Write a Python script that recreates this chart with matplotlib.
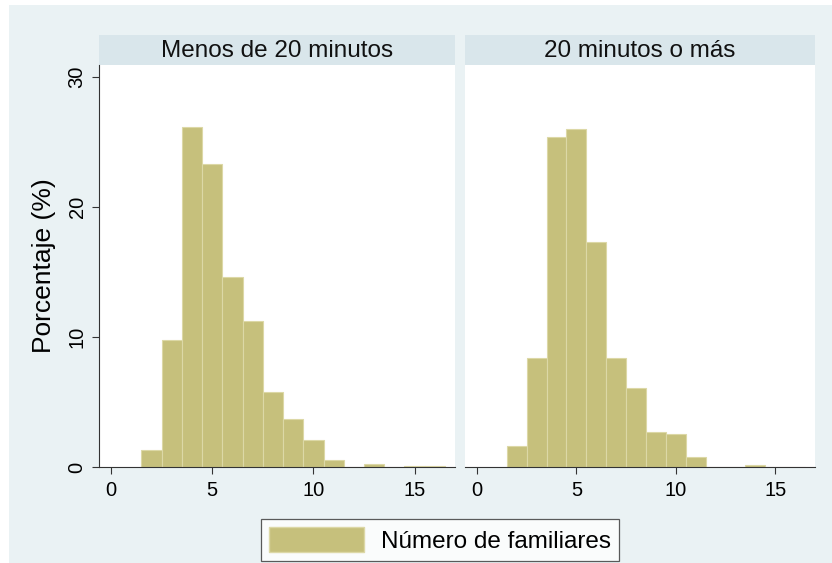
import matplotlib
matplotlib.use("Agg")
import matplotlib.pyplot as plt
from matplotlib.patches import Rectangle, Patch

plt.rcParams['font.family'] = ['Liberation Sans', 'DejaVu Sans']

# Data: bins of width 1 centred on integer values (Número de familiares)
bin_centres = [2, 3, 4, 5, 6, 7, 8, 9, 10, 11, 12, 13, 14, 15, 16]
pct_menos20 = [1.3, 9.8, 26.1, 23.3, 14.6, 11.2, 5.8, 3.7, 2.1, 0.5, 0.0, 0.25, 0.0, 0.05, 0.05]
pct_20mas = [1.6, 8.4, 25.4, 26.0, 17.3, 8.4, 6.1, 2.7, 2.5, 0.8, 0.0, 0.0, 0.15, 0.0, 0.0]
panel_titles = ["Menos de 20 minutos", "20 minutos o más"]
x_ticks = [0, 5, 10, 15]
y_ticks = [0, 10, 20, 30]
y_label = "Porcentaje (%)"
legend_label = "Número de familiares"

W, H = 832, 563
BG = '#eaf2f4'
STRIP = '#d9e6eb'
BAR = '#c6c07c'
EDGE = '#dcd8a6'

fig = plt.figure(figsize=(W / 100, H / 100), dpi=100, facecolor='white')
fig.patches.append(Rectangle((9 / W, 0), 1 - 9 / W, 1 - 5 / H, transform=fig.transFigure,
                             facecolor=BG, edgecolor='none', zorder=-10))

def fx(px):
    return px / W

def fy(py):
    return 1 - py / H

panels = [(99, 455), (465, 815)]
top, bottom = 65, 467
strip_top = 35
series = [pct_menos20, pct_20mas]

for i, ((x0, x1), vals, title) in enumerate(zip(panels, series, panel_titles)):
    # title strip
    fig.patches.append(Rectangle((fx(x0), fy(top)), fx(x1 - x0), (top - strip_top) / H,
                                 transform=fig.transFigure, facecolor=STRIP, edgecolor='none', zorder=-5))
    fig.text(fx((x0 + x1) / 2), fy((top + strip_top) / 2 + 1), title, ha='center', va='center',
             fontsize=17.5, color='#111111')
    ax = fig.add_axes([fx(x0), fy(bottom), fx(x1 - x0), (bottom - top) / H])
    ax.set_facecolor('white')
    ax.bar(bin_centres, vals, width=1.0, color=BAR, edgecolor=EDGE, linewidth=0.8, zorder=2)
    ax.set_xlim(-0.6, 17.0)
    ax.set_ylim(0, 30.9)
    ax.set_xticks(x_ticks)
    ax.set_xticklabels([str(t) for t in x_ticks], fontsize=14.5)
    for s in ['top', 'right']:
        ax.spines[s].set_visible(False)
    ax.spines['bottom'].set_color('#333333')
    ax.spines['bottom'].set_linewidth(0.8)
    ax.tick_params(axis='x', length=5, width=0.8, color='#333333', pad=5)
    if i == 0:
        ax.set_yticks(y_ticks)
        ax.set_yticklabels([str(t) for t in y_ticks], fontsize=14.5, rotation=90, va='center')
        ax.spines['left'].set_color('#333333')
        ax.spines['left'].set_linewidth(0.8)
        ax.tick_params(axis='y', length=5, width=0.8, color='#333333', pad=4)
        ax.set_ylabel(y_label, fontsize=19, labelpad=8)
    else:
        ax.spines['left'].set_visible(False)
        ax.set_yticks([])

leg = fig.legend(handles=[Patch(facecolor=BAR, edgecolor=EDGE)], labels=[legend_label],
                 loc='center', bbox_to_anchor=(fx(440), fy(540)), fontsize=17.5,
                 frameon=True, fancybox=False, edgecolor='#333333', handlelength=3.9,
                 handleheight=1.2, borderpad=0.35, handletextpad=0.7)
leg.get_frame().set_facecolor('white')
leg.get_frame().set_linewidth(0.9)

fig.savefig('out.png', dpi=100, facecolor=fig.get_facecolor())
